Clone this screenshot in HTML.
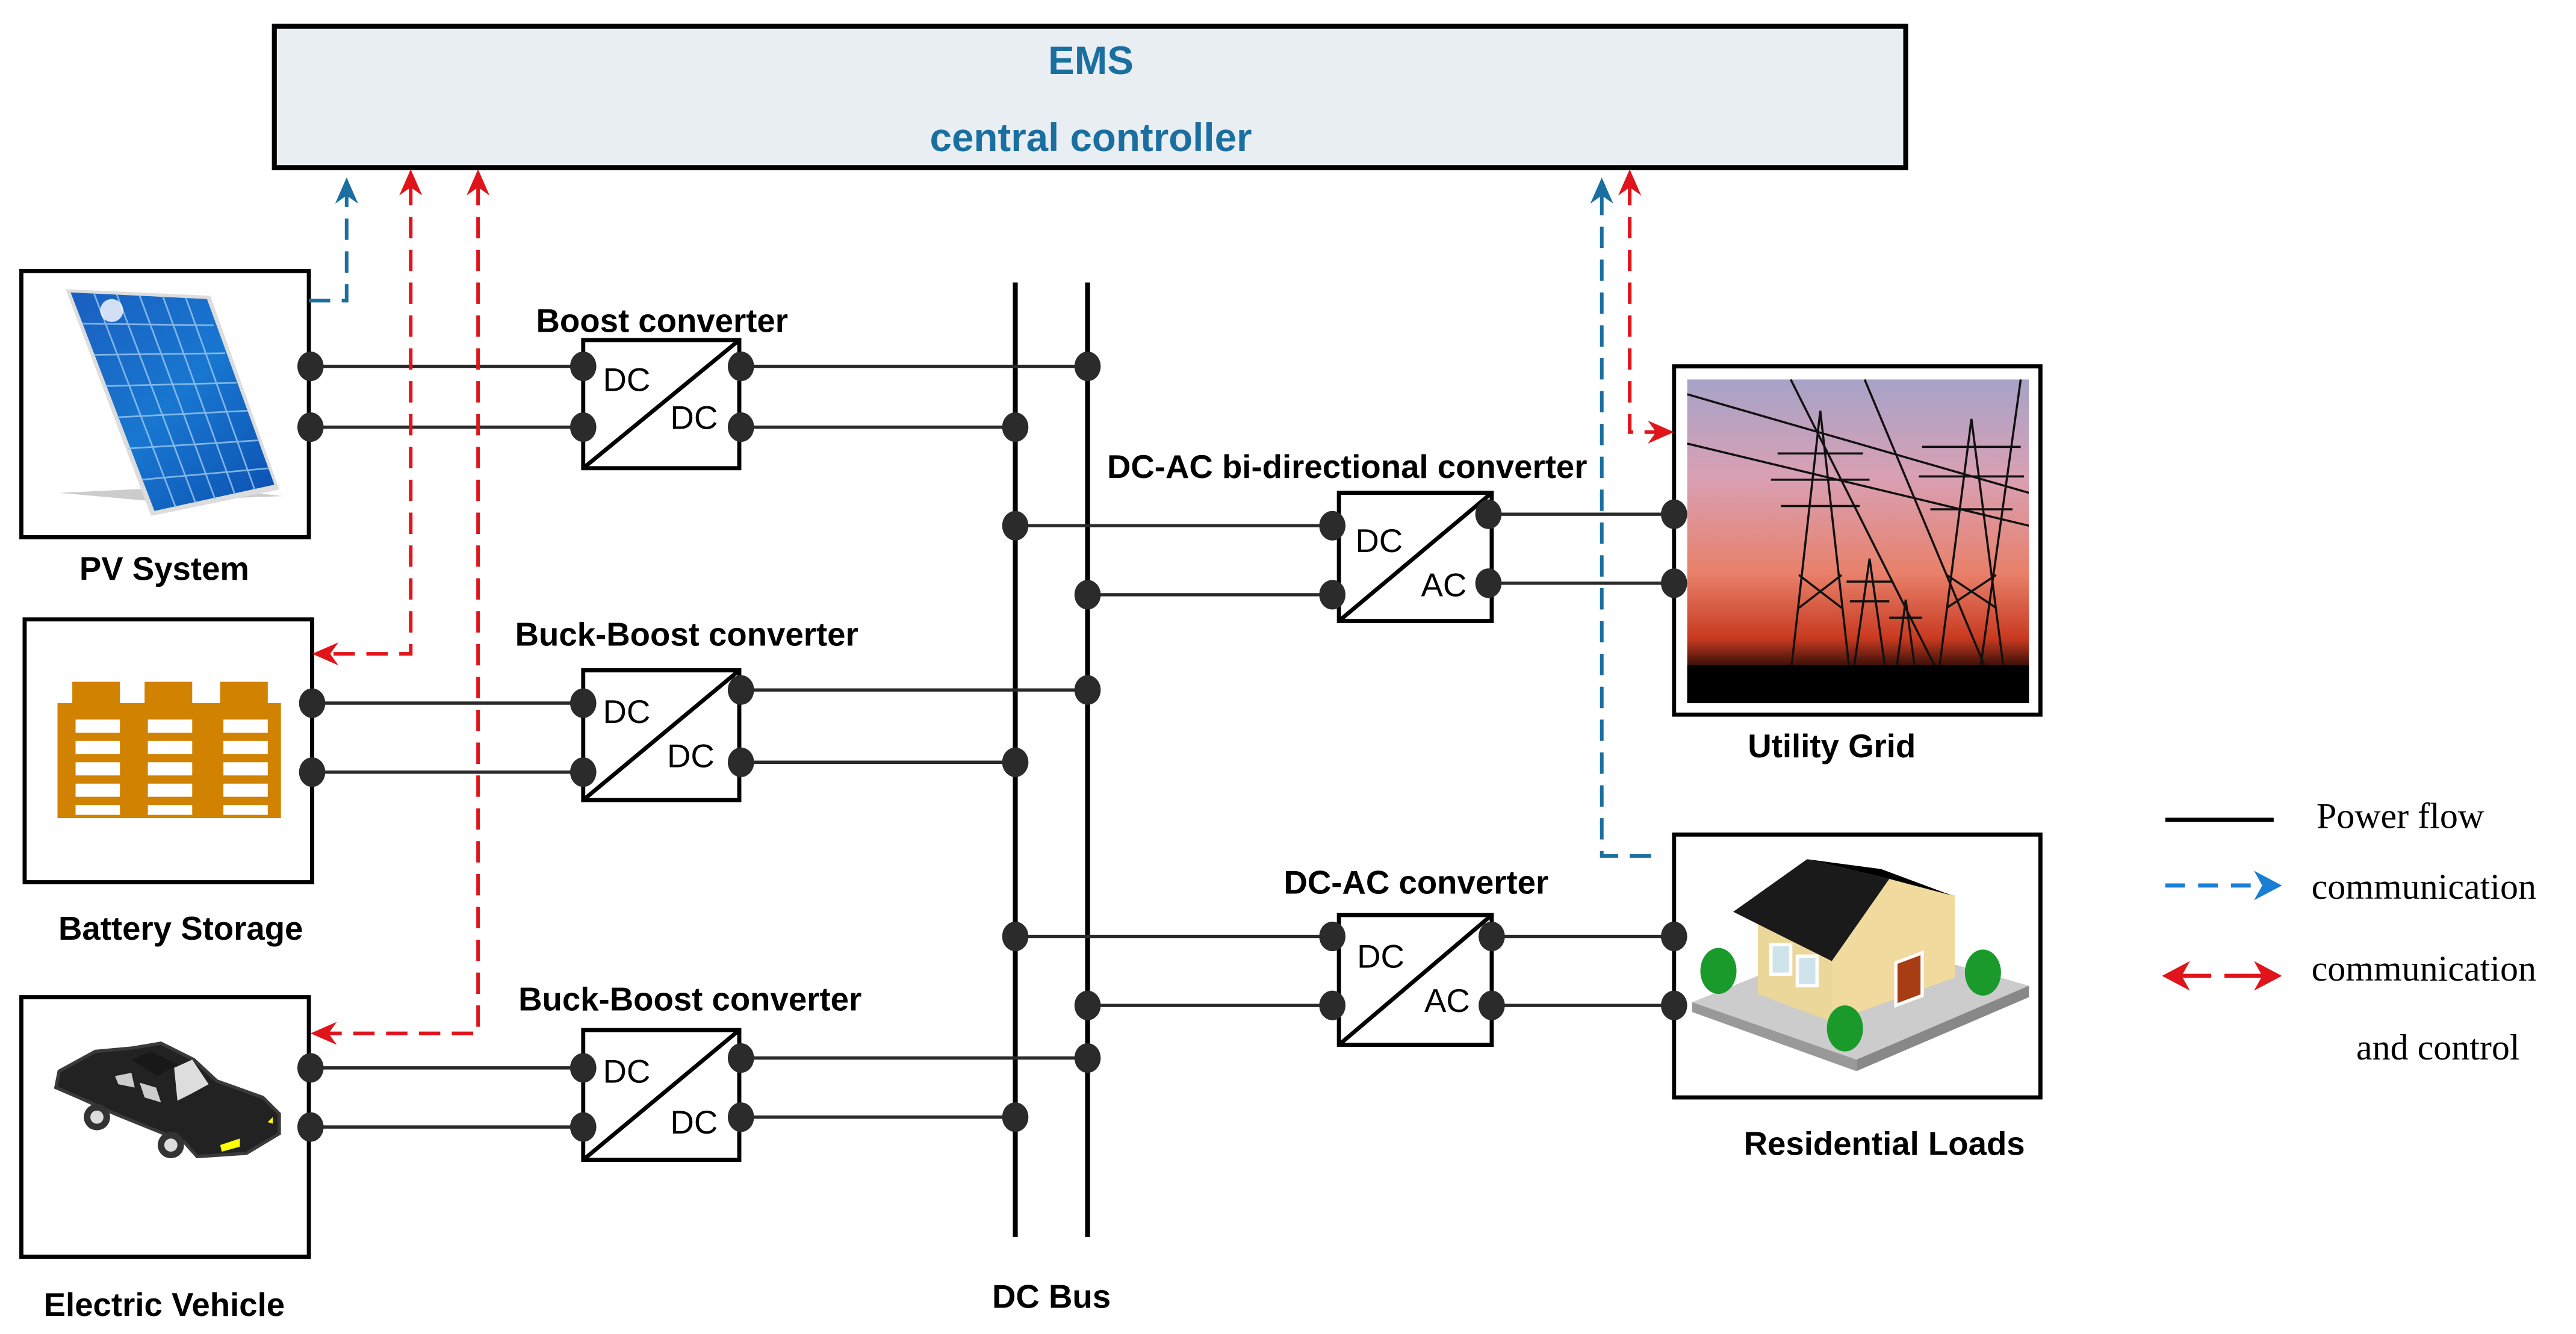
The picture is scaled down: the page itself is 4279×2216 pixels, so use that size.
<!DOCTYPE html>
<html><head><meta charset="utf-8"><style>
html,body{margin:0;padding:0;background:#fff;}
svg{display:block;}
</style></head><body>
<svg width="4279" height="2216" viewBox="0 0 1568 812" preserveAspectRatio="none" xmlns="http://www.w3.org/2000/svg" font-family="Liberation Sans, sans-serif">
<defs>
<linearGradient id="sky" x1="0" y1="0" x2="0" y2="1">
<stop offset="0" stop-color="#a6a3c8"/><stop offset="0.3" stop-color="#d9a0b4"/><stop offset="0.6" stop-color="#e8806a"/><stop offset="0.8" stop-color="#c83a20"/><stop offset="0.9" stop-color="#200805"/><stop offset="1" stop-color="#000"/>
</linearGradient>
<linearGradient id="pv" x1="0" y1="0" x2="1" y2="1"><stop offset="0" stop-color="#1a5fc0"/><stop offset="0.5" stop-color="#1877d0"/><stop offset="1" stop-color="#0b4fb0"/></linearGradient>
</defs>
<rect width="1568" height="812" fill="#fff"/>
<!-- EMS -->
<rect x="167" y="16" width="993" height="86" fill="#e9eef3" stroke="#000" stroke-width="3"/>
<text x="664" y="45" text-anchor="middle" font-size="24" font-weight="bold" fill="#1a6fa0">EMS</text>
<text x="664" y="92" text-anchor="middle" font-size="24" font-weight="bold" fill="#1a6fa0">central controller</text>

<!-- DC bus -->
<g stroke="#000" stroke-width="3"><line x1="618" y1="172" x2="618" y2="753"/><line x1="662" y1="172" x2="662" y2="753"/></g>
<text x="640" y="796" text-anchor="middle" font-size="20" font-weight="bold">DC Bus</text>

<!-- power lines -->
<g stroke="#2a2a2a" stroke-width="2">
<line x1="189" y1="223" x2="355" y2="223"/><line x1="189" y1="260" x2="355" y2="260"/>
<line x1="450" y1="223" x2="662" y2="223"/><line x1="450" y1="260" x2="618" y2="260"/>
<line x1="190" y1="428" x2="355" y2="428"/><line x1="190" y1="470" x2="355" y2="470"/>
<line x1="450" y1="420" x2="662" y2="420"/><line x1="450" y1="464" x2="618" y2="464"/>
<line x1="189" y1="650" x2="355" y2="650"/><line x1="189" y1="686" x2="355" y2="686"/>
<line x1="450" y1="644" x2="662" y2="644"/><line x1="450" y1="680" x2="618" y2="680"/>
<line x1="618" y1="320" x2="812" y2="320"/><line x1="662" y1="362" x2="812" y2="362"/>
<line x1="906" y1="313" x2="1019" y2="313"/><line x1="906" y1="355" x2="1019" y2="355"/>
<line x1="618" y1="570" x2="812" y2="570"/><line x1="662" y1="612" x2="812" y2="612"/>
<line x1="908" y1="570" x2="1019" y2="570"/><line x1="908" y1="612" x2="1019" y2="612"/>
</g>

<!-- converters -->
<g fill="#fff" stroke="#000" stroke-width="2.5">
<rect x="355" y="207" width="95" height="78"/><line x1="355" y1="285" x2="450" y2="207"/>
<rect x="355" y="408" width="95" height="79"/><line x1="355" y1="487" x2="450" y2="408"/>
<rect x="355" y="627" width="95" height="79"/><line x1="355" y1="706" x2="450" y2="627"/>
<rect x="815" y="300" width="93" height="78"/><line x1="815" y1="378" x2="908" y2="300"/>
<rect x="815" y="557" width="93" height="79"/><line x1="815" y1="636" x2="908" y2="557"/>
</g>
<g font-size="20" fill="#000">
<text x="367" y="238">DC</text><text x="408" y="261">DC</text>
<text x="367" y="440">DC</text><text x="406" y="467">DC</text>
<text x="367" y="659">DC</text><text x="408" y="690">DC</text>
<text x="825" y="336">DC</text><text x="865" y="363">AC</text>
<text x="826" y="589">DC</text><text x="867" y="616">AC</text>
</g>
<g font-size="20" font-weight="bold" text-anchor="middle">
<text x="403" y="202">Boost converter</text>
<text x="418" y="393">Buck-Boost converter</text>
<text x="420" y="615">Buck-Boost converter</text>
<text x="820" y="291">DC-AC bi-directional converter</text>
<text x="862" y="544">DC-AC converter</text>
</g>

<!-- component boxes -->
<g fill="#fff" stroke="#000" stroke-width="2.5">
<rect x="13" y="165" width="175" height="162"/>
<rect x="15" y="377" width="175" height="160"/>
<rect x="13" y="607" width="175" height="158"/>
<rect x="1019" y="223" width="223" height="212"/>
<rect x="1019" y="508" width="223" height="160"/>
</g>
<g font-size="20" font-weight="bold" text-anchor="middle">
<text x="100" y="353">PV System</text>
<text x="110" y="572">Battery Storage</text>
<text x="100" y="801">Electric Vehicle</text>
<text x="1115" y="461">Utility Grid</text>
<text x="1147" y="703">Residential Loads</text>
</g>

<!-- PV panel -->
<polygon points="36,300 92,305 172,302 120,296" fill="#aaa" opacity="0.6"/>
<polygon points="40,176 128,180 170,298 92,314" fill="#ddd"/>
<polygon points="43,178 126,182 167,295 94,311" fill="url(#pv)"/>
<g stroke="#9cc8ef" stroke-width="1" opacity="0.8">
<line x1="57" y1="178" x2="107" y2="309"/><line x1="71" y1="179" x2="119" y2="306"/><line x1="85" y1="180" x2="131" y2="304"/><line x1="99" y1="180" x2="143" y2="301"/><line x1="113" y1="181" x2="155" y2="298"/>
<line x1="50" y1="197" x2="130" y2="198"/><line x1="57" y1="216" x2="137" y2="215"/><line x1="64" y1="235" x2="144" y2="233"/><line x1="71" y1="254" x2="151" y2="250"/><line x1="78" y1="273" x2="158" y2="268"/><line x1="86" y1="292" x2="164" y2="285"/>
</g>
<circle cx="68" cy="189" r="7" fill="#fff" opacity="0.8"/>

<!-- Battery -->
<g fill="#d08200">
<rect x="35" y="428" width="136" height="70"/>
<rect x="44" y="415" width="29" height="15"/><rect x="88" y="415" width="29" height="15"/><rect x="134" y="415" width="29" height="15"/>
</g>
<g fill="#fff">
<rect x="46" y="438" width="27" height="8"/><rect x="46" y="451" width="27" height="8"/><rect x="46" y="464" width="27" height="8"/><rect x="46" y="477" width="27" height="8"/><rect x="46" y="490" width="27" height="6"/>
<rect x="90" y="438" width="27" height="8"/><rect x="90" y="451" width="27" height="8"/><rect x="90" y="464" width="27" height="8"/><rect x="90" y="477" width="27" height="8"/><rect x="90" y="490" width="27" height="6"/>
<rect x="136" y="438" width="27" height="8"/><rect x="136" y="451" width="27" height="8"/><rect x="136" y="464" width="27" height="8"/><rect x="136" y="477" width="27" height="8"/><rect x="136" y="490" width="27" height="6"/>
</g>

<!-- Car -->
<polygon points="34,662 36,652 58,640 80,638 98,635 118,645 132,658 160,668 170,678 170,690 150,702 120,704 112,695 70,678 48,668" fill="#222" stroke="#3a3a3a" stroke-width="2"/>
<polygon points="106,650 117,645 127,660 116,666 108,670" fill="#ddd"/>
<polygon points="70,655 80,653 82,662 72,660" fill="#ccc"/>
<polygon points="85,659 95,662 98,671 88,668" fill="#ccc"/>
<polygon points="80,645 92,640 108,648 96,655" fill="#181818"/>
<circle cx="59" cy="680" r="8" fill="#333"/><circle cx="59" cy="680" r="4" fill="#ddd"/>
<circle cx="104" cy="697" r="8" fill="#333"/><circle cx="104" cy="697" r="4" fill="#ddd"/>
<polygon points="134,697 146,693 146,698 135,701" fill="#ff0"/>
<polygon points="163,683 166,680 166,684" fill="#ff0"/>

<!-- Grid image -->
<rect x="1027" y="231" width="208" height="197" fill="url(#sky)"/>
<g stroke="#111" stroke-width="1.3" fill="none">
<path d="M1108,250 L1090,410 M1108,250 L1126,410 M1082,276 L1134,276 M1078,292 L1138,292 M1084,308 L1132,308 M1095,350 L1121,370 M1121,350 L1095,370"/>
<path d="M1200,255 L1180,410 M1200,255 L1220,410 M1170,272 L1230,272 M1168,290 L1232,290 M1175,310 L1225,310 M1185,350 L1215,370 M1215,350 L1185,370"/>
<path d="M1138,340 L1128,410 M1138,340 L1148,410 M1124,354 L1152,354 M1126,366 L1150,366"/>
<path d="M1160,365 L1154,410 M1160,365 L1166,410 M1150,376 L1170,376"/>
<path d="M1027,240 L1235,300 M1027,270 L1235,320 M1090,231 L1180,410 M1135,231 L1210,410 M1230,231 L1205,410"/>
</g>
<rect x="1027" y="405" width="208" height="23" fill="#000"/>

<!-- House -->
<polygon points="1030,610 1130,645 1235,600 1130,570" fill="#ccc"/>
<polygon points="1030,610 1130,645 1130,652 1030,616" fill="#999"/>
<polygon points="1130,645 1235,600 1235,607 1130,652" fill="#888"/>
<polygon points="1070,560 1070,605 1115,622 1115,580" fill="#ecd79a"/>
<polygon points="1115,580 1115,622 1190,595 1190,545 1150,535" fill="#f0da9d"/>
<polygon points="1055,555 1100,523 1150,535 1115,585" fill="#1a1a1a"/>
<polygon points="1100,523 1150,535 1188,545 1145,529" fill="#000"/>
<rect x="1078" y="575" width="12" height="18" fill="#cfe3ea" stroke="#fff" stroke-width="2"/>
<rect x="1094" y="582" width="12" height="18" fill="#cfe3ea" stroke="#fff" stroke-width="2"/>
<polygon points="1154,586 1170,580 1170,606 1154,612" fill="#a83c12" stroke="#fff" stroke-width="2"/>
<ellipse cx="1046" cy="591" rx="11" ry="14" fill="#1a9a2a"/>
<ellipse cx="1123" cy="626" rx="11" ry="14" fill="#1a9a2a"/>
<ellipse cx="1207" cy="592" rx="11" ry="14" fill="#1a9a2a"/>

<!-- nodes -->
<g fill="#2b2b2b">
<ellipse cx="189" cy="223" rx="8" ry="9"/><ellipse cx="189" cy="260" rx="8" ry="9"/>
<ellipse cx="355" cy="223" rx="8" ry="9"/><ellipse cx="355" cy="260" rx="8" ry="9"/>
<ellipse cx="451" cy="223" rx="8" ry="9"/><ellipse cx="451" cy="260" rx="8" ry="9"/>
<ellipse cx="190" cy="428" rx="8" ry="9"/><ellipse cx="190" cy="470" rx="8" ry="9"/>
<ellipse cx="355" cy="428" rx="8" ry="9"/><ellipse cx="355" cy="470" rx="8" ry="9"/>
<ellipse cx="451" cy="420" rx="8" ry="9"/><ellipse cx="451" cy="464" rx="8" ry="9"/>
<ellipse cx="189" cy="650" rx="8" ry="9"/><ellipse cx="189" cy="686" rx="8" ry="9"/>
<ellipse cx="355" cy="650" rx="8" ry="9"/><ellipse cx="355" cy="686" rx="8" ry="9"/>
<ellipse cx="451" cy="644" rx="8" ry="9"/><ellipse cx="451" cy="680" rx="8" ry="9"/>
<ellipse cx="662" cy="223" rx="8" ry="9"/><ellipse cx="618" cy="260" rx="8" ry="9"/>
<ellipse cx="662" cy="420" rx="8" ry="9"/><ellipse cx="618" cy="464" rx="8" ry="9"/>
<ellipse cx="662" cy="644" rx="8" ry="9"/><ellipse cx="618" cy="680" rx="8" ry="9"/>
<ellipse cx="618" cy="320" rx="8" ry="9"/><ellipse cx="662" cy="362" rx="8" ry="9"/>
<ellipse cx="618" cy="570" rx="8" ry="9"/><ellipse cx="662" cy="612" rx="8" ry="9"/>
<ellipse cx="811" cy="320" rx="8" ry="9"/><ellipse cx="811" cy="362" rx="8" ry="9"/>
<ellipse cx="906" cy="313" rx="8" ry="9"/><ellipse cx="906" cy="355" rx="8" ry="9"/>
<ellipse cx="811" cy="570" rx="8" ry="9"/><ellipse cx="811" cy="612" rx="8" ry="9"/>
<ellipse cx="908" cy="570" rx="8" ry="9"/><ellipse cx="908" cy="612" rx="8" ry="9"/>
<ellipse cx="1019" cy="313" rx="8" ry="9"/><ellipse cx="1019" cy="355" rx="8" ry="9"/>
<ellipse cx="1019" cy="570" rx="8" ry="9"/><ellipse cx="1019" cy="612" rx="8" ry="9"/>
</g>

<!-- comm lines -->
<g fill="none" stroke-width="2.2" stroke-dasharray="13,7">
<polyline points="188,183 211,183 211,118" stroke="#1a6fa0"/>
<polyline points="250,112 250,398 200,398" stroke="#e0141b"/>
<polyline points="291,112 291,629 200,629" stroke="#e0141b"/>
<polyline points="975,118 975,521 1012,521" stroke="#1a6fa0"/>
<polyline points="992,112 992,263 1010,263" stroke="#e0141b"/>
</g>
<g>
<polygon points="211,108 204,124 211,119 218,124" fill="#1a6fa0"/>
<polygon points="975,108 968,124 975,119 982,124" fill="#1a6fa0"/>
<polygon points="250,103 243,119 250,114 257,119" fill="#e0141b"/>
<polygon points="291,103 284,119 291,114 298,119" fill="#e0141b"/>
<polygon points="992,103 985,119 992,114 999,119" fill="#e0141b"/>
<polygon points="190,398 206,391 201,398 206,405" fill="#e0141b"/>
<polygon points="189,629 205,622 200,629 205,636" fill="#e0141b"/>
<polygon points="1019,263 1003,256 1008,263 1003,270" fill="#e0141b"/>
</g>

<!-- Legend -->
<line x1="1318" y1="499" x2="1384" y2="499" stroke="#000" stroke-width="2.5"/>
<text x="1410" y="504" font-family="Liberation Serif, serif" font-size="22">Power flow</text>
<line x1="1318" y1="539" x2="1378" y2="539" stroke="#1a7fd4" stroke-width="2.5" stroke-dasharray="12,8"/>
<polygon points="1389,539 1372,530 1377,539 1372,548" fill="#1a7fd4"/>
<text x="1407" y="547" font-family="Liberation Serif, serif" font-size="22">communication</text>
<line x1="1322" y1="594" x2="1382" y2="594" stroke="#e0141b" stroke-width="2.5" stroke-dasharray="24,8"/>
<polygon points="1316,594 1333,585 1328,594 1333,603" fill="#e0141b"/>
<polygon points="1389,594 1372,585 1377,594 1372,603" fill="#e0141b"/>
<text x="1407" y="597" font-family="Liberation Serif, serif" font-size="22">communication</text>
<text x="1484" y="645" text-anchor="middle" font-family="Liberation Serif, serif" font-size="22">and control</text>
</svg>
</body></html>
